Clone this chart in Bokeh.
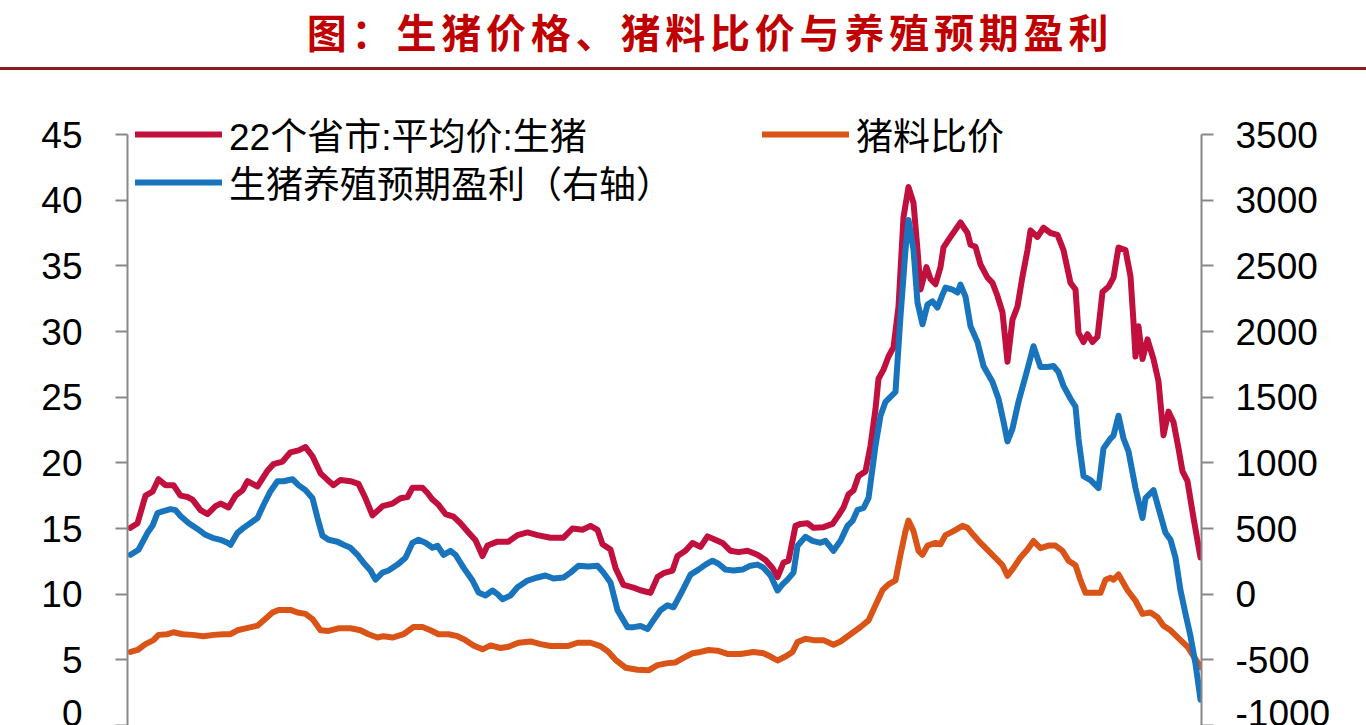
from bokeh.plotting import figure
from bokeh.models import (Range1d, LinearAxis, FixedTicker, Legend, LegendItem, Div,
                          PrintfTickFormatter)
from bokeh.layouts import column
from bokeh.embed import file_html
from bokeh.resources import INLINE

TITLE = "图：生猪价格、猪料比价与养殖预期盈利"
NAME_PRICE = "22个省市:平均价:生猪"
NAME_RATIO = "猪料比价"
NAME_PROFIT = "生猪养殖预期盈利（右轴）"

LEFT_TICKS = [0, 5, 10, 15, 20, 25, 30, 35, 40, 45]
RIGHT_TICKS = [-1000, -500, 0, 500, 1000, 1500, 2000, 2500, 3000, 3500]

price_day = [0, 14, 30, 44, 56, 70, 86, 100, 114, 124, 140, 154, 170, 180, 196, 210, 224, 234,
             254, 274, 286, 304, 320, 336, 350, 364, 380, 394, 406, 420, 440, 456, 470, 484,
             504, 524, 540, 554, 564, 584, 594, 604, 616, 630, 646, 660, 676, 690, 704, 714,
             734, 756, 774, 794, 814, 840, 866, 884, 904, 920, 934, 944, 960, 970, 986, 1006,
             1020, 1040, 1054, 1066, 1084, 1094, 1110, 1124, 1140, 1154, 1166, 1184, 1200,
             1216, 1234, 1254, 1270, 1284, 1294, 1306, 1316, 1330, 1340, 1354, 1366, 1386,
             1404, 1416, 1426, 1436, 1446, 1456, 1470, 1480, 1490, 1496, 1506, 1516, 1526,
             1536, 1546, 1556, 1566, 1574, 1580, 1592, 1600, 1610, 1620, 1626, 1640, 1660,
             1674, 1680, 1690, 1700, 1714, 1724, 1734, 1744, 1754, 1764, 1774, 1784, 1794,
             1800, 1814, 1826, 1840, 1854, 1866, 1880, 1890, 1896, 1906, 1914, 1924, 1934,
             1944, 1956, 1966, 1976, 1990, 2000, 2006, 2010, 2016, 2024, 2034, 2046, 2056,
             2066, 2076, 2086, 2096, 2104, 2114, 2126, 2140]
hog_price = [15.05, 15.4, 17.5, 17.8, 18.75, 18.3, 18.3, 17.5, 17.4, 17.2, 16.4, 16.1, 16.7,
             16.9, 16.6, 17.5, 17.9, 18.6, 18.2, 19.4, 19.9, 20.1, 20.8, 20.95, 21.2, 20.5,
             19.2, 18.7, 18.3, 18.7, 18.6, 18.4, 17.3, 16.0, 16.7, 16.9, 17.3, 17.4, 18.1,
             18.1, 17.7, 17.2, 16.8, 16.1, 15.9, 15.4, 14.7, 14.1, 12.9, 13.7, 14.0, 14.0,
             14.5, 14.7, 14.5, 14.3, 14.3, 15.0, 14.9, 15.2, 14.9, 13.8, 13.4, 12.0, 10.7,
             10.5, 10.3, 10.1, 11.3, 11.6, 11.8, 12.9, 13.3, 13.9, 13.6, 14.4, 14.2, 13.9,
             13.3, 13.2, 13.3, 13.0, 12.6, 12.0, 11.3, 12.4, 12.55, 15.2, 15.35, 15.4, 15.05,
             15.1, 15.35, 16.0, 16.6, 17.6, 17.9, 19.0, 19.35, 21.3, 24.1, 26.4, 27.1, 28.1,
             28.8, 31.9, 38.7, 41.0, 39.8, 36.2, 33.2, 34.9, 34.0, 33.6, 34.9, 36.4, 37.2,
             38.3, 37.5, 36.6, 36.45, 35.1, 34.1, 33.7, 32.7, 31.45, 27.7, 30.9, 31.9, 34.2,
             36.2, 37.7, 37.2, 37.9, 37.5, 37.35, 36.2, 33.7, 33.2, 29.9, 29.2, 29.8, 29.2,
             29.6, 33.0, 33.4, 34.1, 36.4, 36.2, 34.2, 30.7, 28.1, 30.4, 27.9, 29.4, 27.9,
             26.2, 22.1, 23.9, 23.1, 21.1, 19.35, 18.6, 15.8, 12.8]

profit_day = [0, 16, 34, 44, 54, 66, 80, 90, 100, 116, 134, 150, 164, 180, 194, 200, 214, 226,
              240, 254, 266, 280, 294, 306, 324, 336, 350, 364, 374, 384, 396, 414, 426, 440,
              454, 466, 480, 490, 504, 516, 534, 550, 564, 576, 590, 604, 614, 626, 640, 650,
              666, 684, 696, 710, 724, 734, 744, 760, 774, 794, 814, 830, 846, 866, 880, 896,
              916, 934, 946, 960, 974, 994, 1006, 1020, 1034, 1046, 1060, 1074, 1086, 1104,
              1120, 1136, 1150, 1164, 1176, 1190, 1206, 1224, 1240, 1254, 1266, 1280, 1294,
              1304, 1314, 1326, 1334, 1350, 1364, 1380, 1390, 1406, 1420, 1434, 1444, 1454,
              1466, 1476, 1484, 1490, 1500, 1510, 1520, 1530, 1540, 1550, 1556, 1566, 1574,
              1584, 1594, 1604, 1614, 1624, 1630, 1644, 1654, 1660, 1670, 1680, 1694, 1706,
              1724, 1736, 1746, 1754, 1764, 1776, 1794, 1806, 1820, 1834, 1846, 1856, 1866,
              1880, 1890, 1896, 1906, 1920, 1936, 1946, 1960, 1966, 1976, 1986, 1996, 2010,
              2024, 2030, 2046, 2056, 2070, 2080, 2090, 2100, 2110, 2120, 2130, 2140]
profit = [300, 338, 467, 520, 618, 633, 648, 640, 595, 542, 497, 452, 429, 414, 391, 376, 467,
          505, 542, 580, 679, 784, 860, 860, 875, 830, 792, 731, 580, 444, 414, 399, 376, 353,
          300, 240, 180, 111, 164, 180, 225, 278, 391, 414, 391, 353, 369, 300, 330, 300, 202,
          104, 13, -10, 28, 0, -38, -10, 53, 104, 127, 142, 119, 127, 164, 217, 210, 217, 164,
          89, -122, -251, -251, -243, -266, -198, -122, -85, -100, 28, 149, 187, 225, 255, 232,
          187, 180, 187, 217, 225, 202, 142, 28, 74, 111, 164, 369, 437, 406, 391, 406, 330,
          406, 520, 558, 641, 656, 731, 958, 1132, 1359, 1465, 1503, 1541, 2115, 2622, 2849,
          2622, 2221, 2055, 2206, 2229, 2183, 2281, 2334, 2319, 2297, 2357, 2266, 2040, 1919,
          1737, 1616, 1488, 1314, 1163, 1261, 1465, 1714, 1888, 1730, 1730, 1737, 1692, 1586,
          1488, 1427, 1185, 898, 868, 807, 1110, 1185, 1208, 1359, 1185, 1087, 807, 580, 731,
          792, 656, 467, 414, 278, 28, -151, -320, -531, -803]

ratio_day = [0, 14, 30, 46, 56, 74, 86, 104, 124, 146, 166, 186, 200, 214, 230, 254, 266, 284,
             296, 320, 334, 350, 364, 380, 396, 416, 440, 460, 476, 494, 506, 524, 546, 566,
             584, 600, 616, 636, 654, 670, 686, 704, 720, 740, 756, 776, 800, 820, 840, 874,
             894, 920, 940, 956, 970, 990, 1014, 1036, 1054, 1074, 1090, 1106, 1124, 1140, 1156,
             1174, 1194, 1220, 1246, 1266, 1280, 1294, 1310, 1324, 1334, 1350, 1366, 1386,
             1406, 1420, 1440, 1460, 1476, 1490, 1504, 1516, 1530, 1540, 1550, 1556, 1566,
             1576, 1584, 1594, 1610, 1620, 1630, 1646, 1664, 1674, 1686, 1700, 1716, 1734,
             1744, 1754, 1766, 1780, 1794, 1806, 1820, 1836, 1850, 1864, 1876, 1890, 1900,
             1910, 1926, 1940, 1950, 1960, 1966, 1976, 1994, 2010, 2024, 2040, 2054, 2066,
             2080, 2100, 2114, 2140]
hog_feed_ratio = [5.6, 5.75, 6.2, 6.5, 6.9, 6.95, 7.1, 6.95, 6.9, 6.8, 6.9, 6.95, 6.95, 7.25,
                  7.4, 7.6, 8.0, 8.6, 8.8, 8.8, 8.6, 8.5, 8.1, 7.25, 7.2, 7.4, 7.4, 7.25, 6.95,
                  6.7, 6.8, 6.7, 6.95, 7.5, 7.5, 7.25, 6.95, 6.95, 6.8, 6.5, 6.1, 5.8, 6.1, 5.9,
                  6.0, 6.3, 6.4, 6.2, 6.05, 6.05, 6.3, 6.3, 6.05, 5.6, 5.0, 4.4, 4.25, 4.2, 4.6,
                  4.75, 4.8, 5.15, 5.5, 5.6, 5.75, 5.7, 5.45, 5.45, 5.6, 5.5, 5.25, 4.95, 5.25,
                  5.6, 6.35, 6.6, 6.5, 6.5, 6.15, 6.4, 6.95, 7.5, 8.0, 9.15, 10.3, 10.75, 11.05,
                  13.0, 14.8, 15.6, 14.8, 13.3, 13.0, 13.7, 13.9, 13.8, 14.5, 14.8, 15.2, 15.05,
                  14.5, 13.9, 13.3, 12.6, 12.2, 11.4, 12.0, 12.8, 13.4, 14.05, 13.5, 13.7, 13.7,
                  13.3, 12.55, 12.2, 11.05, 10.1, 10.1, 10.1, 11.1, 11.25, 11.1, 11.5, 10.3, 9.5,
                  8.5, 8.6, 8.25, 7.6, 7.25, 6.5, 6.0, 4.45]

RED = "#C2103E"
ORANGE = "#DA5417"
BLUE = "#1874BC"
AXIS_GREY = "#888888"
LATIN = "Liberation Sans"
CJK_LEGEND = "'Liberation Sans', 'Noto Sans CJK SC'"

# ---------------- title strip (HTML text) ----------------
title_div = Div(
    text=TITLE, width=1366, height=70, margin=0,
    styles={"box-sizing": "border-box", "width": "1366px", "height": "65px",
            "padding-top": "0px", "padding-left": "54px",
            "border-bottom": "3px solid #8E1B1B",
            "text-align": "center", "font-family": "'Noto Sans CJK SC'",
            "font-weight": "bold", "font-size": "40px", "line-height": "62px",
            "letter-spacing": "4.8px", "color": "#C00000", "white-space": "nowrap"})

# ---------------- main chart ----------------
# 45 sits at page y 134, 0 at the bottom edge (page y 725); frame extends above 45 for the legend
PX_PER_UNIT = (725 - 134) / 45.0
FRAME_TOP = 90
Y_TOP = (725 - FRAME_TOP) / PX_PER_UNIT
p = figure(width=1366, height=655, x_range=Range1d(-6, 2142), y_range=Range1d(0, Y_TOP),
           toolbar_location=None, output_backend="svg", x_axis_location=None,
           min_border_left=127, min_border_right=165, min_border_top=FRAME_TOP - 70,
           min_border_bottom=0, outline_line_color=None)
p.grid.visible = False
p.extra_y_ranges = {"right": Range1d(-1000, -1000 + Y_TOP * 100)}

r_ratio = p.line(ratio_day, hog_feed_ratio, line_color=ORANGE, line_width=6,
                 line_join="round", line_cap="round")
r_price = p.line(price_day, hog_price, line_color=RED, line_width=6,
                 line_join="round", line_cap="round")
r_profit = p.line(profit_day, profit, line_color=BLUE, line_width=6,
                  line_join="round", line_cap="round", y_range_name="right")

yl = p.yaxis[0]
yl.ticker = FixedTicker(ticks=LEFT_TICKS)
yl.bounds = (LEFT_TICKS[0], LEFT_TICKS[-1])
yr = LinearAxis(y_range_name="right", ticker=FixedTicker(ticks=RIGHT_TICKS),
                bounds=(RIGHT_TICKS[0], RIGHT_TICKS[-1]))
p.add_layout(yr, "right")
for ax, standoff in ((yl, 33), (yr, 22)):
    ax.formatter = PrintfTickFormatter(format="%d")
    ax.axis_line_color = AXIS_GREY
    ax.axis_line_width = 2
    ax.major_tick_line_color = AXIS_GREY
    ax.major_tick_line_width = 2
    ax.major_tick_in = 0
    ax.major_tick_out = 12
    ax.minor_tick_line_color = None
    ax.major_label_text_font = LATIN
    ax.major_label_text_font_size = "37px"
    ax.major_label_text_color = "#000000"
    ax.major_label_standoff = standoff

def make_legend(name, renderer, loc):
    lg = Legend(items=[LegendItem(label=name, renderers=[renderer])], location=loc)
    lg.label_text_font = CJK_LEGEND
    lg.label_text_font_size = "37px"
    lg.label_text_color = "#000000"
    lg.glyph_width = 87
    lg.glyph_height = 40
    lg.label_height = 40
    lg.label_standoff = 7
    lg.padding = 0
    lg.margin = 0
    lg.border_line_color = None
    lg.background_fill_alpha = 0
    p.add_layout(lg, "center")

make_legend(NAME_PRICE, r_price, (8, 564))
make_legend(NAME_PROFIT, r_profit, (8, 516))
make_legend(NAME_RATIO, r_ratio, (635, 564))

layout = column(title_div, p, spacing=0)
open("out.html", "w").write(file_html(layout, INLINE))
